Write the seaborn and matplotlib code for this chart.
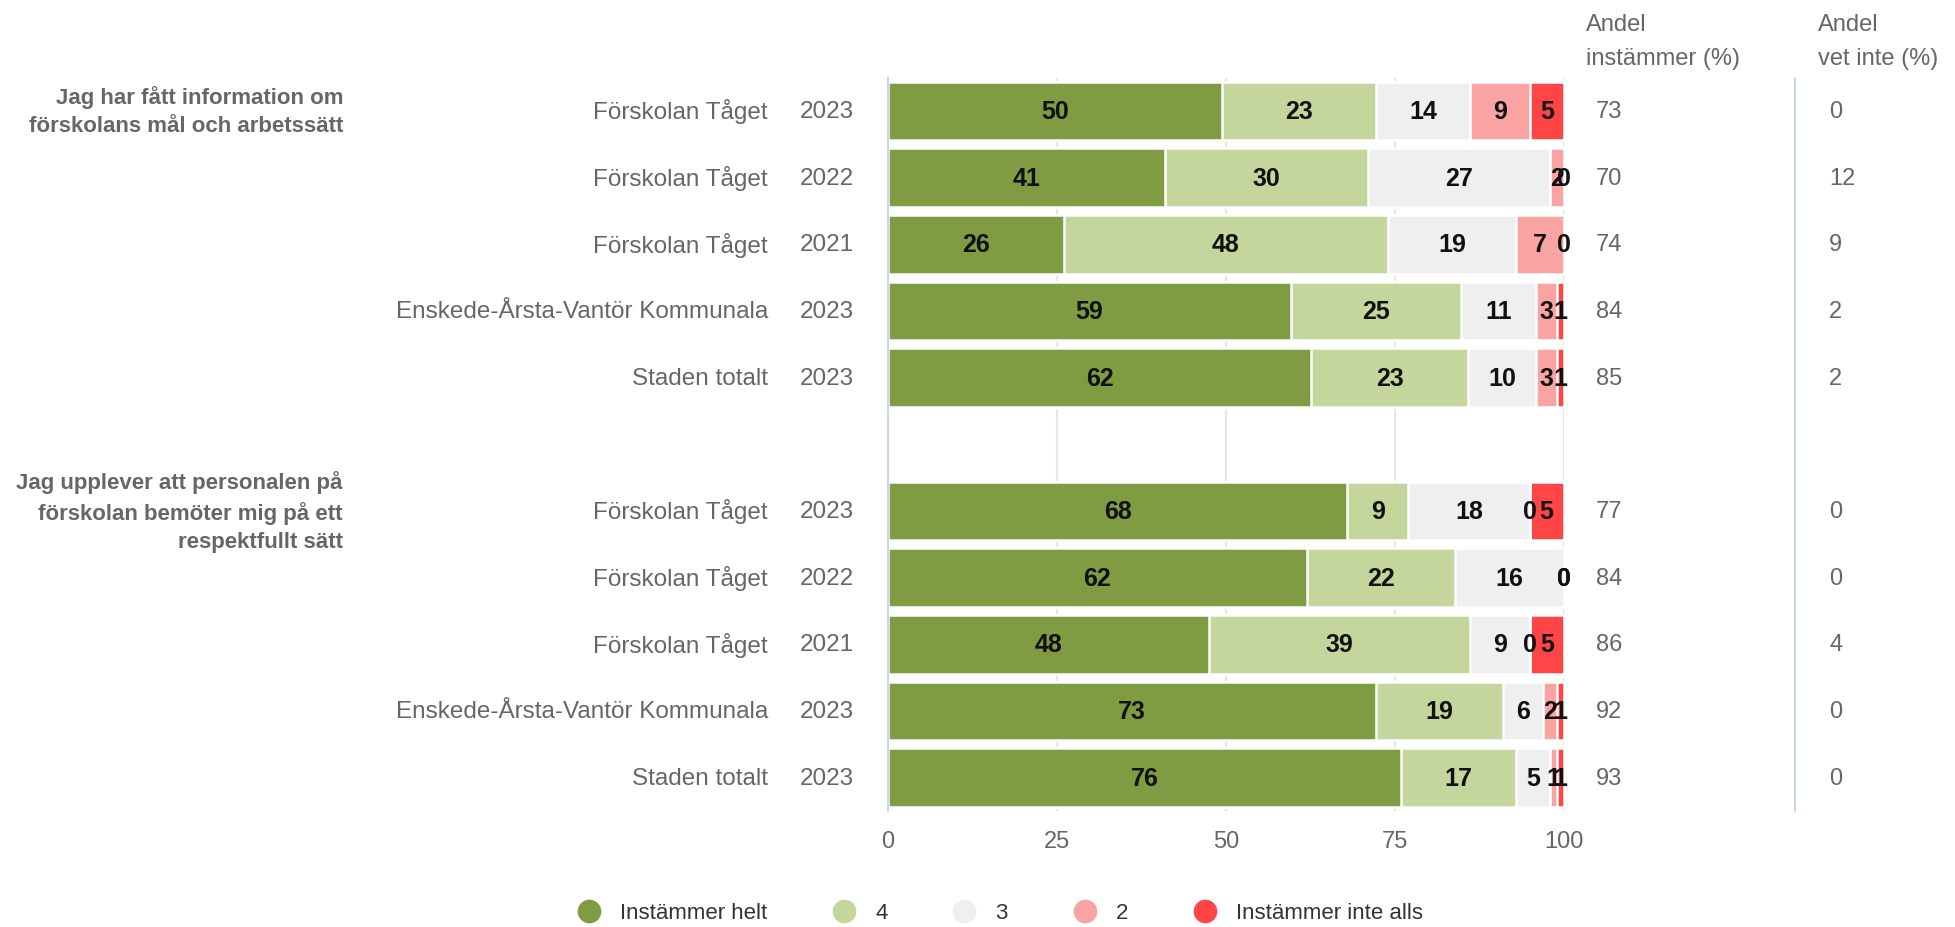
import numpy as np
import pandas as pd
import matplotlib
matplotlib.use("Agg")
import matplotlib.pyplot as plt
import seaborn as sns
from matplotlib.lines import Line2D
from matplotlib.transforms import blended_transform_factory

# ---------------- data ----------------
questions = [
    "Jag har fått information om\nförskolans mål och arbetssätt",
    "Jag upplever att personalen på\nförskolan bemöter mig på ett\nrespektfullt sätt",
]
units = ["Förskolan Tåget", "Förskolan Tåget", "Förskolan Tåget",
         "Enskede-Årsta-Vantör Kommunala", "Staden totalt"]
years = ["2023", "2022", "2021", "2023", "2023"]
levels = ["Instämmer helt", "4", "3", "2", "Instämmer inte alls"]
colors = ["#7f9c43", "#c4d69b", "#efefef", "#faa3a3", "#ff4545"]

q1_helt = [50, 41, 26, 59, 62]
q1_4 = [23, 30, 48, 25, 23]
q1_3 = [14, 27, 19, 11, 10]
q1_2 = [9, 2, 7, 3, 3]
q1_inte = [5, 0, 0, 1, 1]
q1_andel = [73, 70, 74, 84, 85]
q1_vetinte = [0, 12, 9, 2, 2]

q2_helt = [68, 62, 48, 73, 76]
q2_4 = [9, 22, 39, 19, 17]
q2_3 = [18, 16, 9, 6, 5]
q2_2 = [0, 0, 0, 2, 1]
q2_inte = [5, 0, 5, 1, 1]
q2_andel = [77, 84, 86, 92, 93]
q2_vetinte = [0, 0, 4, 0, 0]

header_andel = "Andel\ninstämmer (%)"
header_vetinte = "Andel\nvet inte (%)"
xticks = [0, 25, 50, 75, 100]

# ---------------- table ----------------
groups = [
    (q1_helt, q1_4, q1_3, q1_2, q1_inte, q1_andel, q1_vetinte),
    (q2_helt, q2_4, q2_3, q2_2, q2_inte, q2_andel, q2_vetinte),
]
rows = []
order = []
for gi, g in enumerate(groups):
    if gi > 0:
        order.append("gap")
    for j in range(len(units)):
        key = f"q{gi}_{j}"
        order.append(key)
        vals = np.array([g[k][j] for k in range(5)], dtype=float)
        norm = vals / vals.sum() * 100
        cum = np.cumsum(norm)
        rec = {"row": key, "group": gi, "unit": units[j], "year": years[j],
               "andel": g[5][j], "vetinte": g[6][j]}
        for k in range(5):
            rec[f"v{k}"] = int(vals[k])
            rec[f"cum{k}"] = cum[k]
            rec[f"mid{k}"] = cum[k] - norm[k] / 2
        rows.append(rec)
df = pd.DataFrame(rows)

# ---------------- style ----------------
sns.set_style("white")
plt.rcParams["font.family"] = ["Liberation Sans", "DejaVu Sans"]

W, H = 1955, 928
fig = plt.figure(figsize=(W / 100, H / 100), dpi=100)
ax_l, ax_r, ax_t, ax_b = 888, 1563.5, 78.5, 812
ax = fig.add_axes([ax_l / W, 1 - ax_b / H, (ax_r - ax_l) / W, (ax_b - ax_t) / H])

for k in range(4, -1, -1):
    sns.barplot(data=df, x=f"cum{k}", y="row", order=order, orient="y",
                color=colors[k], saturation=1, width=0.88, errorbar=None,
                edgecolor="white", linewidth=1.8, ax=ax)

ax.set_xlim(0, 100)
ax.set_ylim(len(order) - 0.5, -0.5)
ax.set_xlabel("")
ax.set_ylabel("")
ax.set_xticks(xticks)
ax.set_xticklabels([str(t) for t in xticks])
ax.tick_params(axis="x", length=0, pad=14, labelsize=17, labelcolor="#666666")
ax.set_yticks(np.arange(-0.5, len(order), 1))
ax.set_yticklabels([])
ax.tick_params(axis="y", length=12, width=1.5, color="#ccd6eb")
ax.xaxis.grid(True, color="#e6e6e6", linewidth=1.5)
ax.yaxis.grid(False)
ax.set_axisbelow(True)
for s in ["top", "right", "bottom"]:
    ax.spines[s].set_visible(False)
ax.spines["left"].set_color("#ccd6eb")
ax.spines["left"].set_linewidth(1.5)

# bar value labels
for _, r in df.iterrows():
    y = order.index(r["row"])
    for k in range(5):
        ax.text(r[f"mid{k}"], y, str(r[f"v{k}"]), ha="center", va="center",
                fontsize=18, fontweight="bold", color="#111111")

# row labels and right-hand columns
tr = blended_transform_factory(fig.transFigure, ax.transData)
for _, r in df.iterrows():
    y = order.index(r["row"])
    ax.text(768 / W, y, r["unit"], transform=tr, ha="right", va="center",
            fontsize=17.5, color="#666666")
    ax.text(854 / W, y, r["year"], transform=tr, ha="right", va="center",
            fontsize=17.5, color="#666666")
    ax.text(1596 / W, y, str(r["andel"]), transform=tr, ha="left", va="center",
            fontsize=17, color="#666666")
    ax.text(1829 / W, y, str(r["vetinte"]), transform=tr, ha="left", va="center",
            fontsize=17, color="#666666")

# question titles
for gi, q in enumerate(questions):
    y = order.index(f"q{gi}_0")
    ax.text(343 / W, y, q, transform=tr, ha="right", va="center", fontsize=16,
            fontweight="bold", color="#666666", linespacing=1.45)

# headers
fig.text(1586 / W, 1 - 42 / H, header_andel, ha="left", va="center",
         fontsize=17, color="#666666", linespacing=1.75)
fig.text(1818 / W, 1 - 42 / H, header_vetinte, ha="left", va="center",
         fontsize=17, color="#666666", linespacing=1.75)

# separator line for the "vet inte" column
fig.add_artist(Line2D([1795 / W, 1795 / W], [1 - ax_t / H, 1 - ax_b / H],
                      color="#ccd6eb", linewidth=1.5))

# legend
handles = [Line2D([], [], marker="o", linestyle="", markersize=16,
                  markerfacecolor=c, markeredgecolor=c) for c in colors]
fig.legend(handles, levels, loc="center", bbox_to_anchor=(995 / W, 1 - 914 / H),
           ncol=5, frameon=False, fontsize=16, handletextpad=0.4,
           columnspacing=2.45, labelcolor="#333333")

fig.savefig("out.png", dpi=100)
